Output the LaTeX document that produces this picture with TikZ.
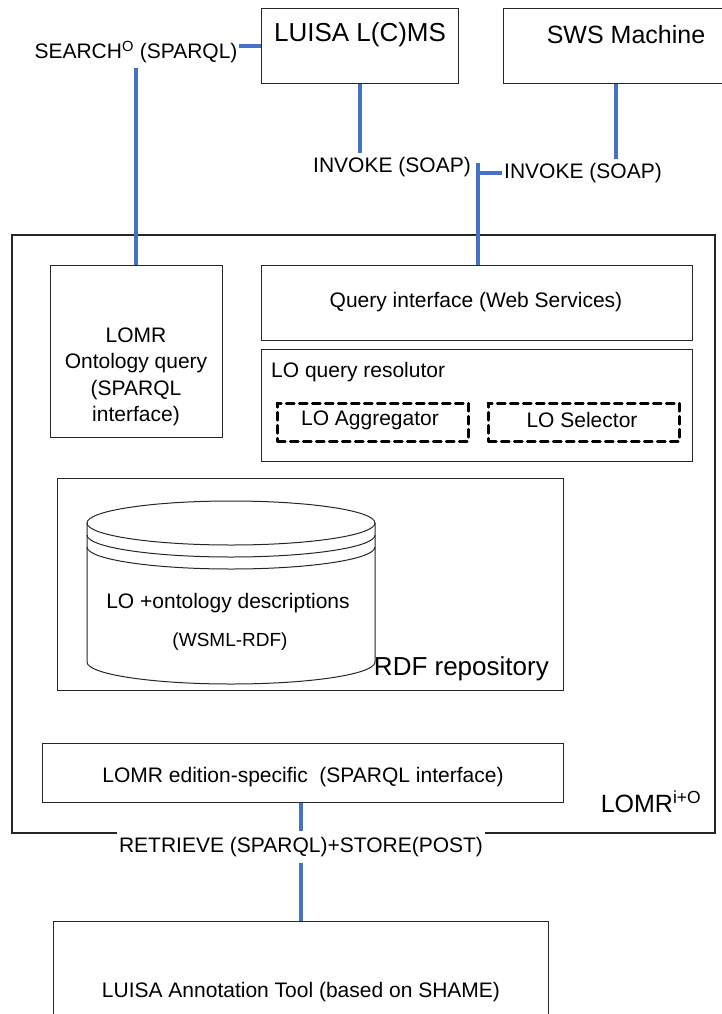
\documentclass[tikz,border=0pt]{standalone}
\usepackage{fontspec}
\setmainfont{Liberation Sans}
\definecolor{linkblue}{HTML}{4472C4}
\definecolor{boxgray}{HTML}{262626}
\newcommand\fsz[2]{\fontsize{#1}{#2}\selectfont}
\begin{document}
\begin{tikzpicture}[x=1pt,y=-1pt,
  box/.style={draw=boxgray, line width=1.1pt, inner sep=0pt, anchor=north west},
  dbox/.style={draw=black, line width=2.6pt, dash pattern=on 8pt off 5pt, line cap=round, inner sep=0pt, anchor=north west},
  boxline/.style={draw=boxgray, line width=1.1pt},
  conn/.style={draw=linkblue, line width=4pt},
  lbl/.style={inner sep=0pt, font=\fsz{21}{26.5}},
  big/.style={inner sep=0pt, font=\fsz{25}{30}}]
\useasboundingbox (0,0) rectangle (721,1014);

% top boxes
\node[box, minimum width=197pt, minimum height=75pt] (luisa) at (261,8) {};
\node[big, font=\fsz{26}{30}] (luisat) at (360,35) {LUISA L(C)MS};
\node[box, minimum width=230pt, minimum height=75pt] (sws) at (503,8) {};
\node[big] (swst) at (626,35) {SWS Machine};

% labels on top connectors
\node[lbl, minimum height=32pt, inner xsep=1pt] (search) at (136,52) {SEARCH\textsuperscript{O} (SPARQL)};
\node[lbl] (inv1) at (392,167) {INVOKE (SOAP)};
\node[lbl, inner xsep=2pt] (inv2) at (583,173) {INVOKE (SOAP)};
\coordinate (j) at (478,173);

% outer LOMR box corners
\coordinate (otl) at (12,235);
\coordinate (obr) at (715,833);

% inner boxes
\node[box, minimum width=172pt, minimum height=172pt] (onto) at (50,265) {};
\node[lbl, align=center] (ontot) at (136,377) {LOMR\\Ontology query\\(SPARQL\\interface)};
\node[box, minimum width=431pt, minimum height=75pt] (qi) at (261,265) {};
\node[lbl] (qit) at (476,302) {Query interface (Web Services)};
\node[box, minimum width=431pt, minimum height=112pt] (res) at (261,349) {};
\node[lbl, anchor=west] (rest) at (271,372) {LO query resolutor};
\node[dbox, minimum width=191pt, minimum height=38pt] (agg) at (276,402) {};
\node[lbl] (aggt) at (370,420) {LO Aggregator};
\node[dbox, minimum width=191pt, minimum height=38pt] (sel) at (487,402) {};
\node[lbl] (selt) at (582,420) {LO Selector};

% RDF repository
\node[box, minimum width=506pt, minimum height=212pt] (rdf) at (57,478) {};
\node[inner sep=0pt, font=\fsz{26}{30}, anchor=east] (rdft) at (549,669) {RDF repository};
% cylinder
\draw[boxline, line width=1pt] (231,523) ellipse [x radius=144pt, y radius=22pt];
\draw[boxline, line width=1pt] (87,535) arc[start angle=180, end angle=360, x radius=144pt, y radius=22pt];
\draw[boxline, line width=1pt] (87,547) arc[start angle=180, end angle=360, x radius=144pt, y radius=22pt];
\draw[boxline, line width=1pt] (87,523) -- (87,662) arc[start angle=180, end angle=360, x radius=144pt, y radius=22pt] -- (375,523);
\node[lbl] (cylt) at (228,603) {LO +ontology descriptions};
\node[inner sep=0pt, font=\fsz{19}{22}] (cylt2) at (230,642) {(WSML-RDF)};

% edition-specific
\node[box, minimum width=521pt, minimum height=59pt] (edit) at (42,743) {};
\node[lbl] (editt) at (303,777) {LOMR edition-specific\ \ (SPARQL interface)};
\node[big] (lomr) at (651,802) {LOMR\textsuperscript{i+O}};

% bottom label and annotation tool
\node[lbl, minimum height=32pt, inner xsep=2pt] (retr) at (301,847) {RETRIEVE (SPARQL)+STORE(POST)};
\node[box, minimum width=495pt, minimum height=120pt] (anno) at (53,921) {};
\node[lbl] (annot) at (301,992) {LUISA Annotation Tool (based on SHAME)};

% outer LOMR box with gap for the label
\draw[boxline] (retr.west |- obr) -- (otl |- obr) -- (otl) -- (obr |- otl) -- (obr) -- (retr.east |- obr);

% connectors
\draw[conn] ([yshift=6pt]search.east) -- ([yshift=6pt]search.east -| luisa.west);
\draw[conn] (search.south) -- (search.south |- onto.north);
\draw[conn] (luisa.south -| luisat) -- ([yshift=4pt]inv1.north -| luisat);
\draw[conn] (sws.south -| 616,0) -- ([yshift=4pt]inv2.north -| 616,0);
\draw[conn] (inv2.west) -- (j);
\draw[conn] ([yshift=10pt]j) -- (j |- qi.north);
\draw[conn] (retr.north |- edit.south) -- (retr.north);
\draw[conn] (retr.south) -- (retr.south |- anno.north);
\end{tikzpicture}
\end{document}
